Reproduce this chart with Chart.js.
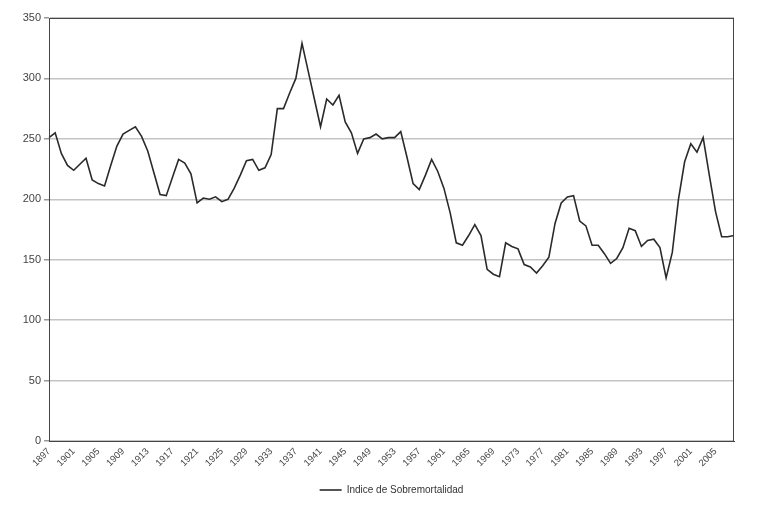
<!DOCTYPE html>
<html>
<head>
<meta charset="utf-8">
<script src="https://cdn.jsdelivr.net/npm/chart.js@4.4.0/dist/chart.umd.min.js"></script>
<style>
  html, body { margin: 0; padding: 0; background: #fff; }
  #wrap { width: 760px; height: 508px; }
</style>
</head>
<body>
<div id="wrap"><canvas id="chart1" width="760" height="508"></canvas></div>
<script>
// Years on the category axis, 1897 to 2008
let first_year = 1897;
let last_year = 2008;
let years = [];
for (let y = first_year; y <= last_year; y++) {
    years.push(String(y));
}

// Values
let indice_values = [
    251, 255, 238, 228, 224, 229, 234, 216, 213, 211,   // 1897-1906
    228, 244, 254, 257, 260, 252, 240, 222, 204, 203,   // 1907-1916
    218, 233, 230, 221, 197, 201, 200, 202, 198, 200,   // 1917-1926
    209, 220, 232, 233, 224, 226, 237, 275, 275, 288,   // 1927-1936
    300, 329, 306, 283, 260, 283, 278, 286, 264, 255,   // 1937-1946
    238, 250, 251, 254, 250, 251, 251, 256, 235, 213,   // 1947-1956
    208, 220, 233, 223, 209, 189, 164, 162, 170, 179,   // 1957-1966
    170, 142, 138, 136, 164, 161, 159, 146, 144, 139,   // 1967-1976
    145, 152, 180, 197, 202, 203, 182, 178, 162, 162,   // 1977-1986
    155, 147, 151, 160, 176, 174, 161, 166, 167, 160,   // 1987-1996
    135, 156, 200, 231, 246, 239, 251, 220, 190, 169,   // 1997-2006
    169, 170                                            // 2007-2008
];

let series_label = 'Indice de Sobremortalidad';
let y_ticks = [0, 50, 100, 150, 200, 250, 300, 350];

// draws the box round the plot area
const frame_plugin = {
    id: 'frame',
    afterDraw(chart) {
        let ctx = chart.ctx;
        let a = chart.chartArea;
        ctx.save();
        ctx.strokeStyle = '#444';
        ctx.lineWidth = 1;
        ctx.strokeRect(a.left + 0.5, a.top + 0.5, a.right - a.left - 1, a.bottom - a.top);
        ctx.restore();
    }
};

let chart_canvas = document.getElementById('chart1');

let chart = new Chart(chart_canvas, {
    type: 'line',
    data: {
        labels: years,
        datasets: [{
            label: series_label,
            data: indice_values,
            borderColor: '#2a2a2a',
            backgroundColor: '#2a2a2a',
            borderWidth: 1.6,
            pointRadius: 0,
            pointStyle: 'line',
            tension: 0,
            fill: false
        }]
    },
    options: {
        responsive: false,
        animation: false,
        layout: { padding: { top: 18, right: 26, bottom: 3, left: 0 } },
        plugins: {
            legend: {
                position: 'bottom',
                fullSize: false,
                labels: {
                    usePointStyle: true,
                    pointStyle: 'line',
                    pointStyleWidth: 22,
                    color: '#333',
                    font: { family: 'Liberation Sans, Arial', size: 10 },
                    padding: 6
                }
            },
            tooltip: { enabled: false }
        },
        scales: {
            x: {
                offset: false,
                grid: { display: false, drawTicks: false },
                border: { display: true, color: '#444', width: 1 },
                ticks: {
                    autoSkip: false,
                    maxRotation: 45,
                    minRotation: 45,
                    padding: 5,
                    color: '#444',
                    font: { family: 'Liberation Sans, Arial', size: 9.5 },
                    callback: function (val, idx) {
                        return (idx % 4 === 0) ? years[idx] : '';
                    }
                },
                afterFit: function (scale) { scale.height = 38; }
            },
            y: {
                min: 0,
                max: 350,
                afterBuildTicks: function (scale) {
                    scale.ticks = y_ticks.map(v => ({ value: v }));
                },
                grid: { color: '#c4c4c4', lineWidth: 1.5, tickLength: 5, tickColor: '#999' },
                border: { display: true, color: '#444', width: 1 },
                ticks: {
                    padding: 3,
                    color: '#444',
                    font: { family: 'Liberation Sans, Arial', size: 11 }
                },
                afterFit: function (scale) { scale.width = 49; }
            }
        }
    },
    plugins: [frame_plugin]
});
</script>
</body>
</html>
